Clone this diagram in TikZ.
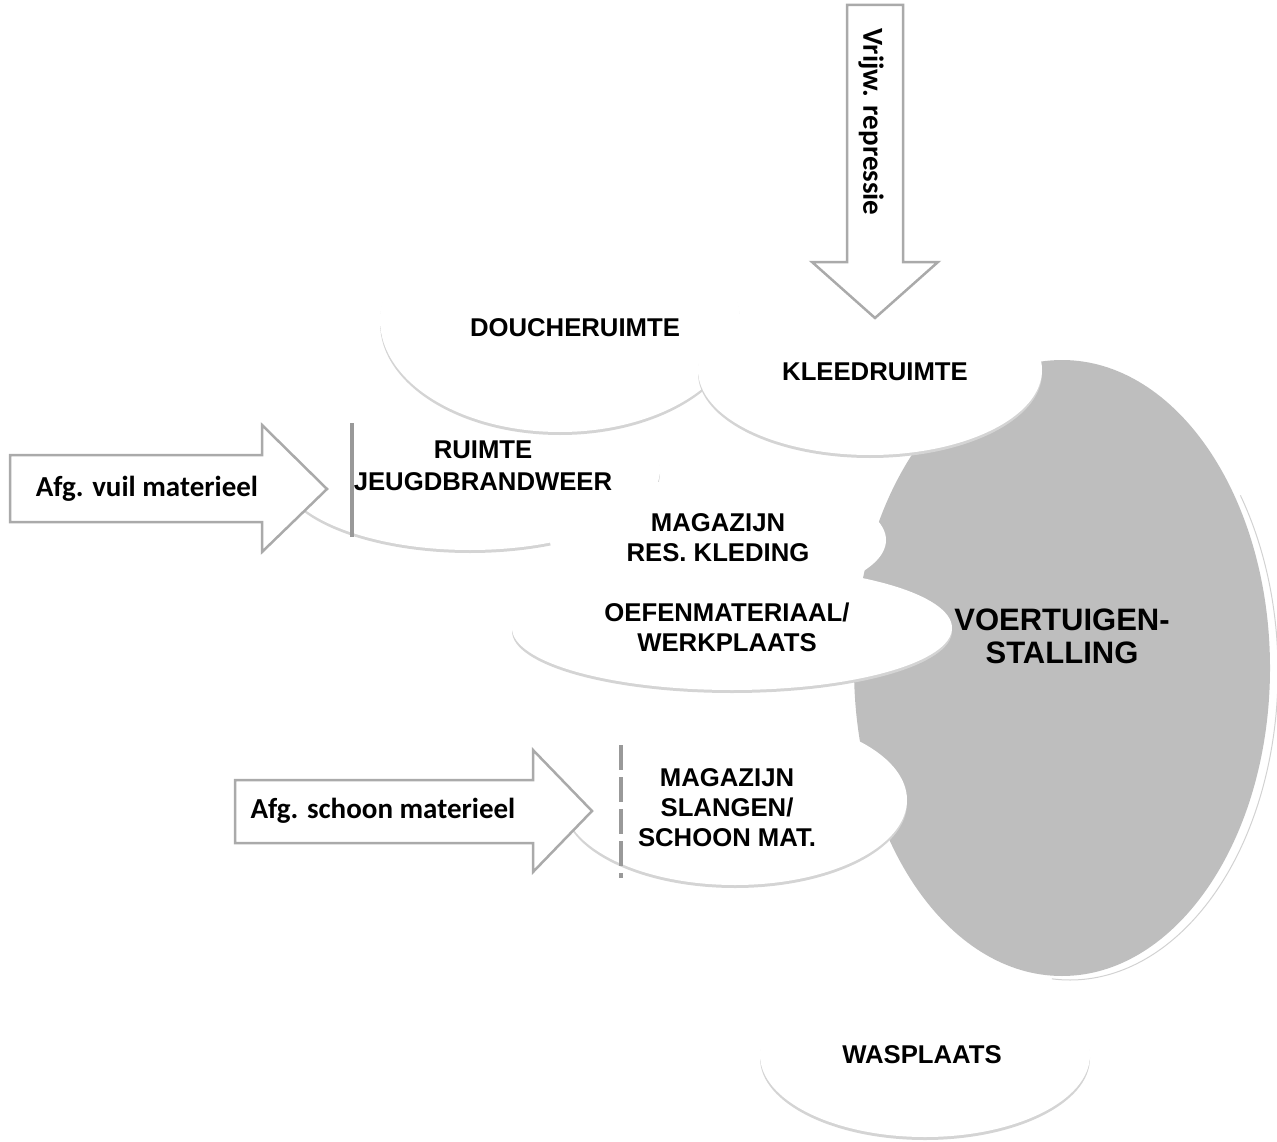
\documentclass[tikz,border=0pt]{standalone}
\usepackage{fontspec}
\setmainfont{Liberation Sans}
\newfontfamily\calib{Carlito}
\definecolor{stallgray}{RGB}{190,190,190}
\definecolor{rimgray}{RGB}{170,170,170}
\definecolor{shadegray}{RGB}{160,160,160}
\tikzset{
  roomshade/.style={fill=shadegray!45},
  roomfill/.style={fill=white},
  blockarrow/.style={draw=rimgray, line width=2.5pt, fill=white, line join=miter},
  lbl/.style={font=\bfseries\fontsize{25.7}{30}\selectfont, align=center, inner sep=0pt},
  albl/.style={font=\calib\bfseries\fontsize{29}{30}\selectfont, inner sep=0pt},
  bar/.style={draw=rimgray!90!black, line width=4.5pt}
}
% room: centre, x radius, y radius
\newcommand\room[3]{%
  \fill[roomshade, yshift=-3pt] (#1) ellipse [x radius=#2pt, y radius=#3pt];
  \fill[roomfill] (#1) ellipse [x radius=#2pt, y radius=#3pt];}
\begin{document}
\begin{tikzpicture}[x=1pt, y=-1pt]
  \useasboundingbox (0,0) rectangle (1277,1142);

  % stalling
  \fill[stallgray] (1062,668) ellipse [x radius=208pt, y radius=308pt];
  \draw[gray!35, line width=1pt] (1062,668) ++(8,4) ++(35:208pt and 308pt)
    arc [start angle=35, end angle=-95, x radius=208pt, y radius=308pt];

  % rooms
  \room{925,1055}{165}{82}
  \room{470,470}{190}{80}
  \room{560,320}{180}{112}
  \room{870,370}{172}{85}
  \fill[roomfill] (718,540) ellipse [x radius=168pt, y radius=62pt];
  \room{732,628}{220}{62}
  \room{735,800}{172}{85}

  % arrows
  \draw[blockarrow] (847,5) -- (903,5) -- (903,262) -- (938,262) -- (875,318)
    -- (812,262) -- (847,262) -- cycle;
  \draw[blockarrow] (10,455) -- (262,455) -- (262,425) -- (327,489) -- (262,552)
    -- (262,522) -- (10,522) -- cycle;
  \draw[blockarrow] (235,780) -- (533,780) -- (533,750) -- (592,811) -- (533,872)
    -- (533,843) -- (235,843) -- cycle;

  % walls
  \draw[bar] (352,423) -- (352,537);
  \draw[bar, dash pattern=on 25pt off 7pt] (621,745) -- (621,878);

  % labels
  \node[albl, rotate=-90] (vrijw) at (871,122) {Vrijw. repressie};
  \node[albl] (vuil) at (147,489) {Afg. vuil materieel};
  \node[albl] (schoon) at (383,811) {Afg. schoon materieel};

  \node[lbl] (douche) at (575,328) {DOUCHERUIMTE};
  \node[lbl] (kleed) at (875,372) {KLEEDRUIMTE};
  \node[lbl, font=\bfseries\fontsize{25.7}{32}\selectfont] (jeugd) at (483,466)
    {RUIMTE\\JEUGDBRANDWEER};
  \node[lbl] (kleding) at (718,538) {MAGAZIJN\\RES. KLEDING};
  \node[lbl] (oefen) at (727,627) {OEFENMATERIAAL/\\WERKPLAATS};
  \node[lbl] (slangen) at (727,808) {MAGAZIJN\\SLANGEN/\\SCHOON MAT.};
  \node[lbl] (was) at (922,1055) {WASPLAATS};
  \node[lbl, font=\bfseries\fontsize{31}{33}\selectfont] (stalling) at (1062,636)
    {VOERTUIGEN-\\STALLING};
\end{tikzpicture}
\end{document}
